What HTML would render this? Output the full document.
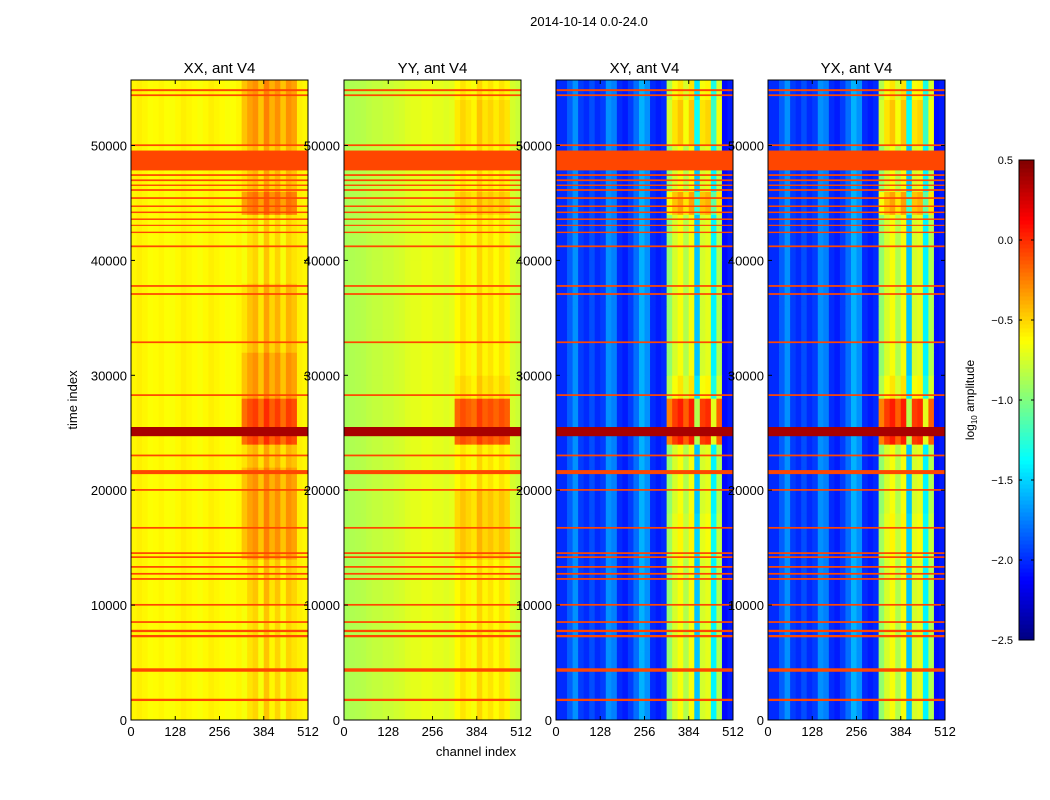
<!DOCTYPE html>
<html><head><meta charset="utf-8"><style>
html,body{margin:0;padding:0;background:#fff;}
svg{display:block;font-family:"Liberation Sans",sans-serif;}
</style></head><body>
<svg id="fig" width="1050" height="800" viewBox="0 0 1050 800">
<rect width="1050" height="800" fill="#fff"/>
<text x="589" y="26" font-size="13" text-anchor="middle">2014-10-14 0.0-24.0</text>
<text x="77" y="400" font-size="13" text-anchor="middle" transform="rotate(-90 77 400)">time index</text>
<text x="476" y="756" font-size="13" text-anchor="middle">channel index</text>
<g id="panels"></g>
<g id="cbar"></g>
</svg>
<script>
// ---- data ----
const panelTitles = ["XX, ant V4","YY, ant V4","XY, ant V4","YX, ant V4"];
const xTicks = [0,128,256,384,512];
const yTicks = [0,10000,20000,30000,40000,50000];
const cbTicks = [0.5,0.0,-0.5,-1.0,-1.5,-2.0,-2.5];
const segSize = 2000;
const binSize = 16;
const regionBins = [20,21,22,23,24,25,26,27,28,29];
const baseXX = [-0.6,-0.58,-0.6,-0.63,-0.62,-0.6,-0.63,-0.64,-0.61,-0.58,-0.6,-0.62,-0.64,-0.61,-0.58,-0.6,-0.62,-0.64,-0.63,-0.6,-0.55,-0.45,-0.4,-0.55,-0.35,-0.5,-0.4,-0.55,-0.4,-0.45,-0.58,-0.6];
const baseYY = [-0.88,-0.86,-0.85,-0.84,-0.82,-0.8,-0.8,-0.78,-0.78,-0.76,-0.75,-0.72,-0.7,-0.7,-0.68,-0.68,-0.7,-0.7,-0.72,-0.7,-0.62,-0.55,-0.6,-0.65,-0.5,-0.6,-0.55,-0.62,-0.55,-0.6,-0.75,-0.78];
const baseXY = [-2.0,-2.0,-1.85,-1.7,-1.95,-2.0,-1.9,-2.0,-1.95,-1.7,-1.75,-2.0,-2.05,-1.95,-1.8,-1.6,-1.7,-2.0,-2.05,-2.0,-0.95,-0.75,-0.65,-0.85,-0.65,-1.55,-0.75,-0.7,-1.4,-0.85,-2.1,-2.05];
const baseYX = [-2.0,-2.0,-1.85,-1.7,-1.95,-2.0,-1.9,-2.0,-1.95,-1.7,-1.75,-2.0,-2.05,-1.95,-1.8,-1.6,-1.7,-2.0,-2.05,-2.0,-0.95,-0.75,-0.65,-0.85,-0.65,-1.55,-0.75,-0.7,-1.4,-0.85,-2.1,-2.05];
const segOffXX = [-0.1,-0.1,-0.1,-0.1,-0.1,-0.05,-0.05,0.1,0.1,0.1,0.1,0,0.35,0.35,0.1,0.1,0,0,0,-0.1,-0.1,-0.1,0.2,0,0,0.1,0.1,0.1];
const segOffYY = [0,0,0,0,0,0,0,0.1,0.1,0.1,0,0,0.45,0.45,0.05,0,0,0,0,0,0,0,0.1,0,0,0.05,0.05,0];
const segOffXY = [0,0,0,0,0,0,0,0.05,0.05,0,0,0,0.7,0.7,0.1,0,0,0,0,0,0,0,0.3,0,0,0.2,0.2,0.1];
const segOffYX = [0,0,0,0,0,0,0,0.05,0.05,0,0,0,0.7,0.7,0.1,0,0,0,0,0,0,0,0.3,0,0,0.2,0.2,0.1];
const flagStarts = [1650,4200,7200,7650,8450,9950,12200,12650,13250,14100,14450,16650,19950,21400,22950,28200,32800,37000,37700,41150,42380,43000,43520,44120,44650,45350,46050,46480,46900,47350,47830,49950,54300,54730];
const flagEnds   = [1850,4500,7400,7850,8600,10100,12350,12800,13400,14250,14600,16800,20100,21750,23100,28350,32950,37150,37850,41300,42500,43100,43650,44250,44780,45500,46200,46600,47050,47500,49560,50100,54450,54900];
const flagValue = -0.08;
const hotStarts = [24700];
const hotEnds = [25500];
const hotValue = 0.38;

const bases=[baseXX,baseYY,baseXY,baseYX];
const offs=[segOffXX,segOffYY,segOffXY,segOffYX];
const panelX=[131,344,556,768], PW=177, PT=80, PB=720;
const T_MAX=55700, C_MAX=512, VMIN=-2.5, VMAX=0.5;
const NS='http://www.w3.org/2000/svg';
function jet(v){let t=(v-VMIN)/(VMAX-VMIN);t=Math.max(0,Math.min(1,t));
 const c=x=>Math.round(255*Math.max(0,Math.min(1,x)));
 return `rgb(${c(1.5-Math.abs(4*t-3))},${c(1.5-Math.abs(4*t-2))},${c(1.5-Math.abs(4*t-1))})`;}
function el(tag,attrs,parent){const e=document.createElementNS(NS,tag);for(const k in attrs)e.setAttribute(k,attrs[k]);parent.appendChild(e);return e;}
const yS=t=>PB-(t/T_MAX)*(PB-PT);
const root=document.getElementById('panels');
for(let p=0;p<4;p++){
 const x0=panelX[p]; const xS=c=>x0+c/C_MAX*PW;
 const g=el('g',{},root);
 
 
 const base=bases[p], off=offs[p];
 for(let s=0;s<off.length;s++){
  const t0=s*segSize, t1=Math.min((s+1)*segSize,T_MAX);
  for(let b=0;b<base.length;b++){
   const v=regionBins.includes(b)?base[b]+off[s]:base[b];
   const r=el('rect',{x:xS(b*binSize),y:yS(t1),width:xS((b+1)*binSize)-xS(b*binSize)+0.4,height:yS(t0)-yS(t1)+0.4,fill:jet(v)},g);
   
   
  }
 }
 for(let i=0;i<flagStarts.length;i++){
  const r=el('rect',{x:x0,y:yS(flagEnds[i]),width:PW,height:yS(flagStarts[i])-yS(flagEnds[i]),fill:jet(flagValue)},g);
  
  
 }
 for(let i=0;i<hotStarts.length;i++){
  const r=el('rect',{x:x0,y:yS(hotEnds[i]),width:PW,height:yS(hotStarts[i])-yS(hotEnds[i]),fill:jet(hotValue)},g);
  
  
 }
 const fr=el('rect',{x:x0,y:PT,width:PW,height:PB-PT,fill:'none',stroke:'#000','stroke-width':1},g);
 
 
 const tt=el('text',{x:x0+PW/2,y:73,'font-size':15,'text-anchor':'middle'},g);tt.textContent=panelTitles[p];
 
 
 xTicks.forEach(v=>{const x=xS(v);
  el('line',{x1:x,x2:x,y1:PB,y2:PB-4,stroke:'#000'},g);el('line',{x1:x,x2:x,y1:PT,y2:PT+4,stroke:'#000'},g);
  const t=el('text',{x:x,y:736,'font-size':13,'text-anchor':'middle'},g);t.textContent=v;
  
  });
 yTicks.forEach(v=>{const y=yS(v);
  el('line',{x1:x0,x2:x0+4,y1:y,y2:y,stroke:'#000'},g);el('line',{x1:x0+PW,x2:x0+PW-4,y1:y,y2:y,stroke:'#000'},g);
  const t=el('text',{x:x0-4,y:y+5,'font-size':13,'text-anchor':'end'},g);t.textContent=v;
  
  });
}
// colorbar
const cb=document.getElementById('cbar');
const CX=1019,CW=15,CT=160,CB=640;
const cY=v=>CB-(v-VMIN)/(VMAX-VMIN)*(CB-CT);
const cbSteps=[];for(let i=0;i<120;i++)cbSteps.push(i);
cbSteps.forEach(i=>{const v0=VMIN+i*(VMAX-VMIN)/120,v1=VMIN+(i+1)*(VMAX-VMIN)/120;
 const r=el('rect',{x:CX,y:cY(v1),width:CW,height:cY(v0)-cY(v1)+0.5,fill:jet((v0+v1)/2)},cb);
 
 });
const cf=el('rect',{x:CX,y:CT,width:CW,height:CB-CT,fill:'none',stroke:'#000'},cb);


cbTicks.forEach(v=>{const y=cY(v);
 el('line',{x1:CX,x2:CX+3,y1:y,y2:y,stroke:'#000'},cb);el('line',{x1:CX+CW,x2:CX+CW-3,y1:y,y2:y,stroke:'#000'},cb);
 const t=el('text',{x:1013,y:y+4,'font-size':11,'text-anchor':'end'},cb);t.textContent=v.toFixed(1).replace('-','\u2212');
 
 });
const cl=el('text',{x:974,y:400,'font-size':12,'text-anchor':'middle',transform:'rotate(-90 974 400)'},cb);
cl.innerHTML='log<tspan font-size="8" dy="3">10</tspan><tspan dy="-3"> amplitude</tspan>';


</script>
</body></html>
